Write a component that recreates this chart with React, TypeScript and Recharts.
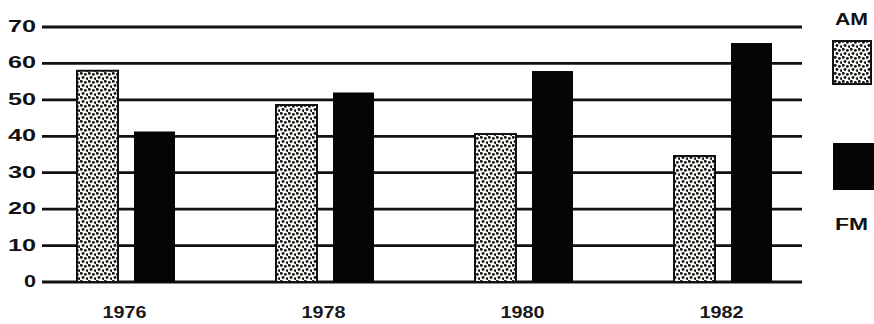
import React from 'react';
import { BarChart, Bar, XAxis, YAxis, CartesianGrid, Legend } from 'recharts';

const years = ['1976', '1978', '1980', '1982'];
const amValues = [58, 48.6, 40.6, 34.6];
const fmValues = [41.3, 52, 57.9, 65.6];
const yTicks = [0, 10, 20, 30, 40, 50, 60, 70];
const seriesNames = ['AM', 'FM'];

const data = years.map((y, i) => ({ year: y, AM: amValues[i], FM: fmValues[i] }));

const FONT = '"Liberation Sans", Arial, Helvetica, sans-serif';

const DotPattern = ({ id }: { id: string }) => (
  <pattern id={id} width="8" height="8" patternUnits="userSpaceOnUse">
    <rect width="8" height="8" fill="#fbfbf8" />
    <circle cx="1.3" cy="1.4" r="1.45" fill="#111" />
    <circle cx="5.4" cy="2.4" r="1.4" fill="#111" />
    <circle cx="3.0" cy="5.5" r="1.45" fill="#111" />
    <circle cx="7.2" cy="6.6" r="1.3" fill="#111" />
  </pattern>
);

const YTick = (props: any) => {
  const { x, y, payload } = props;
  const s = String(payload.value);
  return (
    <text
      x={x}
      y={y + 5}
      textAnchor="end"
      fontFamily={FONT}
      fontWeight="bold"
      fontSize={16}
      fill="#111"
      textLength={s.length > 1 ? 28 : 12}
      lengthAdjust="spacingAndGlyphs"
    >
      {s}
    </text>
  );
};

const XTick = (props: any) => {
  const { x, y, payload } = props;
  return (
    <text
      x={x - 1}
      y={y + 36}
      textAnchor="middle"
      fontFamily={FONT}
      fontWeight="bold"
      fontSize={17}
      fill="#1a1a1a"
      textLength={44}
      lengthAdjust="spacingAndGlyphs"
    >
      {payload.value}
    </text>
  );
};

const LegendContent = () => (
  <svg width={48} height={240} style={{ display: 'block' }}>
    <defs>
      <DotPattern id="amDotsLegend" />
    </defs>
    <text x={9} y={25} fontFamily={FONT} fontWeight="bold" fontSize={16} fill="#111" textLength={33} lengthAdjust="spacingAndGlyphs">
      {seriesNames[0]}
    </text>
    <rect x={7} y={41} width={38} height={43} fill="url(#amDotsLegend)" stroke="#111" strokeWidth={2} />
    <rect x={7} y={143} width={41} height={47} fill="#050505" />
    <text x={9} y={230} fontFamily={FONT} fontWeight="bold" fontSize={16} fill="#111" textLength={33} lengthAdjust="spacingAndGlyphs">
      {seriesNames[1]}
    </text>
  </svg>
);

export default function App() {
  return (
    <div style={{ position: 'absolute', left: 0, top: 0, width: 874, height: 324, background: '#fff' }}>
      <BarChart
        width={874}
        height={324}
        data={data}
        margin={{ top: 27, right: 24, bottom: 0, left: 0 }}
        barGap={16}
        barSize={41}
      >
        <defs>
          <DotPattern id="amDots" />
        </defs>
        <CartesianGrid vertical={false} stroke="#111" strokeWidth={2.8} />
        <XAxis
          dataKey="year"
          height={42}
          axisLine={false}
          tickLine={false}
          tickSize={0}
          tickMargin={0}
          padding={{ left: -16, right: -20 }}
          tick={<XTick />}
          interval={0}
        />
        <YAxis
          width={42}
          domain={[0, 70]}
          ticks={yTicks}
          axisLine={false}
          tickLine={false}
          tickSize={0}
          tickMargin={6}
          tick={<YTick />}
          interval={0}
        />
        <Legend
          layout="vertical"
          align="right"
          verticalAlign="middle"
          content={<LegendContent />}
          wrapperStyle={{ position: 'absolute', left: 826, top: 0, width: 48, height: 240 }}
        />
        <Bar dataKey="AM" fill="url(#amDots)" stroke="#111" strokeWidth={2} isAnimationActive={false} />
        <Bar dataKey="FM" fill="#050505" isAnimationActive={false} />
      </BarChart>
    </div>
  );
}
